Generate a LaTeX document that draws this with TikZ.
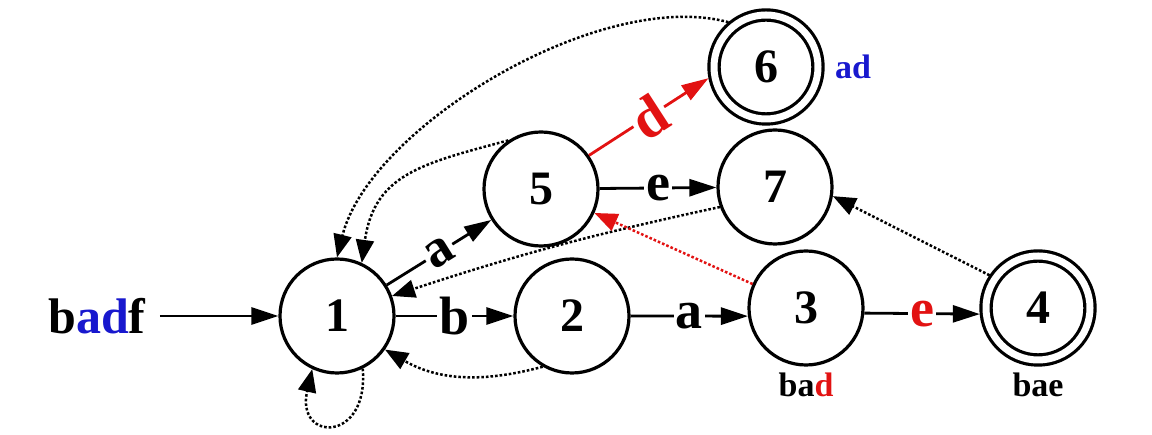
\documentclass[tikz,border=0pt]{standalone}
\usepackage{fontspec}
\setmainfont{Liberation Serif}
\usepackage{xcolor}
\definecolor{hlred}{RGB}{226,18,18}
\definecolor{hlblue}{RGB}{24,24,206}
\usetikzlibrary{positioning,arrows.meta}

\begin{document}
\begin{tikzpicture}[
  x=1pt,y=1pt,
  font=\bfseries\fontsize{48}{50}\selectfont,
  on grid,
  >={Triangle[length=27pt,width=17pt]},
  state/.style={draw,circle,line width=3.2pt,minimum size=114pt,inner sep=0pt},
  accept/.style={state,double,double distance=7pt,minimum size=104pt,outer sep=6.5pt},
  lbl/.style={inner sep=0pt,font=\bfseries\fontsize{34}{36}\selectfont},
  sym/.style={fill=white,inner sep=2pt,font=\bfseries\fontsize{54}{56}\selectfont},
  ar/.style={->,line width=2.8pt},
  fail/.style={-{Triangle[length=23pt,width=18pt]},line width=2.5pt,dash pattern=on 2.6pt off 2pt},
]
\useasboundingbox (0,0) rectangle (1152,435);

\node[state] (n1) at (337,119) {1};
\node[state,right=235pt of n1] (n2) {2};
\node[state,above right=8pt and 234pt of n2] (n3) {3};
\node[accept,right=232pt of n3] (n4) {4};
\node[state,above right=127pt and 204pt of n1] (n5) {5};
\node[state,above right=2pt and 234pt of n5] (n7) {7};
\node[accept,above=120pt of n7,xshift=-9pt] (n6) {6};

\node[inner xsep=14pt,font=\bfseries\fontsize{50}{52}\selectfont,left=240pt of n1] (in) {b\textcolor{hlblue}{ad}f};
\node[lbl,text=hlblue,right=87pt of n6] (l6) {ad};
\node[lbl,below=77pt of n3] (l3) {ba\textcolor{hlred}{d}};
\node[lbl,below=77pt of n4] (l4) {bae};

\draw[ar] (in) -- (n1);
\draw[ar] (n1) -- node[sym,sloped] {a} (n5);
\draw[ar] (n1) -- node[sym] {b} (n2);
\draw[ar] (n2.east) -- node[sym] {a} (n3.188);
\draw[ar] (n3.-5) -- node[sym,text=hlred] {e} (n4.186);
\draw[ar] (n5) -- node[sym] {e} (n7);
\draw[ar,hlred] (n5.35) -- node[sym,sloped,font=\bfseries\fontsize{58}{60}\selectfont] {d} (n6.191);

% failure links
\draw[fail] (n6.130) to[out=165,in=76,looseness=0.75] (n1.90);
\draw[fail] (n5.124) to[out=195,in=82,looseness=1.2] (n1.65);
\draw[fail] (n7.200) to[bend right=3] (n1.20);
\draw[fail,hlred] (n3) -- (n5);
\draw[fail] (n4.146) -- (n7.-9);
\draw[fail] (n2.240) to[out=195,in=-30] (n1.-35);
\draw[fail] (n1.-64) to[out=-85,in=257,looseness=3.8] (n1.-115);
\end{tikzpicture}
\end{document}
